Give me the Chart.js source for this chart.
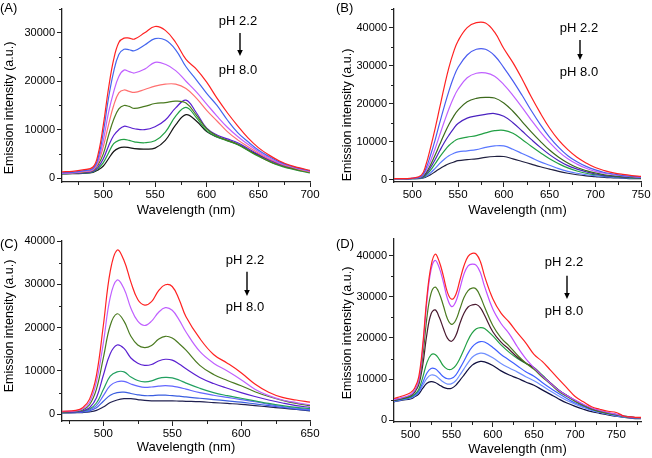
<!DOCTYPE html>
<html><head><meta charset="utf-8">
<script src="https://cdn.jsdelivr.net/npm/chart.js@4.4.0/dist/chart.umd.min.js"></script>
<style>
html,body{margin:0;padding:0;background:#fff;}
#wrap{position:relative;width:652px;height:458px;overflow:hidden;background:#fff;}
.cell{position:absolute;width:326px;height:229px;}
</style></head><body>
<div id="wrap">
<div class="cell" style="left:0;top:0"><canvas id="cA"></canvas></div>
<div class="cell" style="left:326px;top:0"><canvas id="cB"></canvas></div>
<div class="cell" style="left:0;top:229px"><canvas id="cC"></canvas></div>
<div class="cell" style="left:326px;top:229px"><canvas id="cD"></canvas></div>
</div>
<script>
// ---------- Panel A ----------
const A_wl = [460,470,480,490,495,500,505,510,515,520,525,530,540,550,560,570,580,590,600,610,620,630,640,650,660,670,680,690,700];
const A_red    = [1300,1400,1700,2300,5000,11000,18500,24500,28000,28900,28900,28700,30000,31300,30500,28000,24500,22500,19800,16500,13500,10800,8300,6300,4800,3600,2700,2100,1600];
const A_blue   = [1100,1200,1500,2000,4200,9500,16500,22000,25500,26600,26500,26300,27500,28800,28500,26500,23000,20300,17500,15000,12000,9400,7500,5800,4500,3400,2600,2000,1500];
const A_violet = [1000,1100,1400,1800,3600,7800,13500,17800,21000,22300,22000,21700,22500,23900,23500,22200,20000,17800,15300,12800,10500,8600,7000,5500,4200,3200,2500,1900,1400];
const A_salmon = [1000,1100,1300,1700,3200,6500,11000,15000,17600,18200,17900,17700,18300,19000,19400,19400,18500,16500,14000,11800,9600,7900,6500,5200,4000,3100,2400,1800,1300];
const A_olive  = [1000,1050,1200,1600,2800,5000,8800,12100,14300,15000,14800,14400,14800,15400,15600,15900,15500,13000,10200,8700,7800,7000,5800,4600,3500,2700,2100,1600,1200];
const A_indigo = [950,1000,1100,1400,2300,4000,6600,8800,10000,10700,10500,10200,10000,10600,12000,14500,16100,13500,10300,8900,8100,7300,6100,4900,3800,2900,2200,1700,1300];
const A_green  = [900,950,1050,1300,2000,3200,5200,7100,7800,8000,7800,7500,7300,7700,9500,12800,14600,12500,9800,8500,7700,6900,5700,4500,3500,2600,2000,1500,1100];
const A_black  = [850,900,1000,1200,1700,2500,4000,5500,6200,6400,6300,6100,6000,6200,7800,11000,13100,11800,9600,8500,7800,7000,5800,4800,3800,3000,2300,1800,1400];
const A_xTicks = [500,550,600,650,700];
const A_yTicks = [0,10000,20000,30000];

// ---------- Panel B ----------
const B_wl = [480,490,500,510,515,520,525,530,535,540,545,550,560,570,580,590,600,610,620,630,640,650,660,670,680,690,700,710,720,730,740,750];
const B_red    = [300,300,400,1200,4000,8500,13500,19000,24500,29500,33500,36500,40000,41300,41200,38800,34500,30800,26500,21800,17500,13600,10400,7900,5900,4400,3200,2400,1800,1400,1100,900];
const B_blue   = [300,300,350,900,3000,6500,10500,15000,19300,23300,26800,29500,32800,34300,34300,32600,29500,26000,22200,18200,14500,11200,8500,6300,4700,3500,2600,1900,1500,1100,900,700];
const B_violet = [300,300,330,800,2400,5000,8200,11800,15300,18600,21500,23800,26800,28000,28100,27200,25000,22200,19000,15700,12600,9800,7400,5500,4100,3000,2200,1700,1300,1000,800,600];
const B_olive  = [300,300,320,650,1800,3900,6500,9300,12000,14500,16600,18300,20500,21400,21650,21500,20200,18000,15300,12600,10100,7800,5900,4400,3200,2400,1800,1300,1000,800,600,500];
const B_indigo = [300,300,320,550,1500,3200,5300,7600,9800,11700,13400,14800,16200,16800,17200,17400,16700,15000,12800,10600,8500,6600,5000,3700,2800,2100,1500,1100,900,700,600,500];
const B_green  = [300,300,300,480,1200,2500,4200,6000,7600,9000,10000,10700,11200,11600,12300,12900,13000,12200,10600,8800,7100,5500,4200,3100,2300,1700,1300,1000,800,600,500,400];
const B_lblue  = [300,300,300,420,900,1800,3000,4300,5400,6300,6900,7300,7600,7900,8500,8900,8900,8000,6900,5800,4700,3800,2900,2200,1700,1300,1000,800,600,500,400,400];
const B_black  = [250,250,250,350,700,1300,2100,2900,3600,4200,4600,5000,5300,5500,5900,6100,6100,5500,4800,4100,3400,2800,2200,1700,1300,1000,800,600,500,400,300,300];
const B_xTicks = [500,550,600,650,700,750];
const B_yTicks = [0,10000,20000,30000,40000];

// ---------- Panel C ----------
const C_wl = [470,480,485,490,495,500,505,510,515,520,525,530,535,540,545,550,555,560,570,580,590,600,610,620,630,640,650];
const C_red    = [700,900,1500,3500,9000,20500,33000,37900,35500,30500,26500,25200,26000,28500,29900,29500,26500,22500,17500,13800,11800,9600,7000,5100,3900,3300,2800];
const C_violet = [600,800,1200,2800,7500,16500,27000,31000,29000,24500,21500,20500,21500,23500,24600,24000,21800,19000,14500,11800,10000,8000,5800,4300,3300,2700,2200];
const C_olive  = [500,700,1000,2200,5800,13000,20500,23200,21500,18000,16000,15400,15900,17300,18000,17600,16300,14800,11300,9200,7800,6600,5200,4100,3200,2500,2000];
const C_indigo = [450,550,800,1500,3800,9000,14000,16000,15200,13000,11800,11300,11500,12300,12700,12500,11600,10500,8500,7100,6000,5000,4100,3300,2600,2000,1600];
const C_green  = [400,500,700,1200,2600,5700,8800,9800,9800,8600,7800,7500,7700,8300,8500,8400,7900,7200,6000,5000,4300,3700,3100,2500,2000,1600,1300];
const C_blue1  = [400,450,600,1000,2000,4300,6600,7500,7600,7000,6500,6200,6300,6500,6600,6500,6200,5800,5000,4400,3900,3400,2900,2300,1800,1400,1100];
const C_blue2  = [350,400,500,800,1500,3000,4400,5000,5100,4800,4500,4300,4300,4400,4400,4300,4200,4000,3700,3400,3100,2800,2400,2000,1600,1200,900];
const C_black  = [300,350,400,550,900,1700,2700,3300,3600,3600,3400,3200,3100,3100,3100,3100,3050,3000,2900,2700,2500,2300,2000,1700,1400,1100,800];
const C_xTicks = [500,550,600,650];
const C_yTicks = [0,10000,20000,30000,40000];

// ---------- Panel D ----------
const D_wl = [480,490,500,505,510,515,520,525,530,535,540,545,550,555,560,565,570,575,580,585,590,600,610,620,630,640,650,660,670,680,690,700,710,720,730,740,750,760,770,780];
const D_red    = [5300,5900,6700,7800,10500,18500,30000,37500,40300,38500,35000,31000,29400,30500,34000,37500,39800,40500,40300,38500,35000,29500,26000,23800,21200,18800,16000,14300,12200,10000,7900,5800,4500,3300,2700,2200,1900,1000,800,700];
const D_violet = [5000,5500,6200,7200,9500,17500,29000,36500,38800,37000,33500,29500,27600,28800,32000,35500,37500,37900,37600,35800,32500,27000,23500,21000,17800,15000,12800,10800,9000,7300,6000,4900,3900,3000,2400,1900,1500,1000,700,600];
const D_olive  = [5000,5400,6000,7000,9000,15500,25000,30800,32300,30800,27800,24600,23300,24300,27000,29800,31500,32100,31800,30000,27500,23000,20000,18000,15800,13900,12400,10500,8800,7000,5800,4600,3600,2700,2100,1700,1400,1000,700,600];
const D_maroon = [4900,5300,5900,6800,8600,13500,21000,25800,26800,25000,22300,19900,19200,20500,23500,26000,27500,28000,28100,27300,25500,21500,19000,17200,15300,13900,12700,10800,9100,7300,6000,4800,3700,2800,2200,1800,1400,1000,700,600];
const D_green  = [4800,5200,5700,6300,7500,10500,14000,15900,16000,14800,13200,12400,12400,13300,15000,17200,19500,21200,22200,22500,22300,20500,18300,16500,15000,13800,12800,11000,9100,7400,6000,4800,3700,2800,2200,1700,1300,900,700,600];
const D_blue   = [4700,5100,5500,6100,7100,9200,11500,12600,12500,11600,10600,10100,10200,11000,12600,14400,16300,17800,18700,19100,19000,17700,16000,14600,13200,11800,10700,9200,7800,6500,5300,4200,3400,2600,2000,1600,1200,900,600,500];
const D_lblue  = [4600,5000,5400,5900,6800,8500,10200,11000,10900,10100,9300,8800,8900,9600,11000,12500,14000,15300,16000,16300,16200,15200,13800,12700,11700,10600,9600,8400,7100,5900,4800,3900,3100,2400,1900,1500,1100,800,600,500];
const D_black  = [4500,4900,5200,5700,6400,7800,9000,9400,9200,8600,8000,7700,7800,8500,9700,11000,12300,13400,14000,14300,14200,13300,12000,11000,10200,9300,8500,7400,6300,5200,4200,3400,2700,2100,1700,1300,1000,700,500,400];
const D_xTicks = [500,550,600,650,700,750];
const D_yTicks = [0,10000,20000,30000,40000];

const FONT = "'Liberation Sans', Arial, Helvetica, sans-serif";

const decoPlugin = {
  id: 'deco',
  afterDraw(chart) {
    const o = chart.options.plugins.deco;
    const ctx = chart.ctx;
    ctx.save();
    const xs = chart.scales.x, ys = chart.scales.y;
    ctx.strokeStyle = '#222'; ctx.lineWidth = 1;
    const minors = (ticks, min, max) => {
      const step = ticks[1] - ticks[0];
      const out = [];
      for (let v = ticks[0] - step / 2; v <= max + 1e-9; v += step) if (v >= min - 1e-9) out.push(v);
      return out;
    };
    minors(o.xTicks, xs.min, xs.max).forEach(v => {
      const px = Math.round(xs.getPixelForValue(v)) + 0.5;
      ctx.beginPath(); ctx.moveTo(px, xs.top); ctx.lineTo(px, xs.top + 3); ctx.stroke();
    });
    minors(o.yTicks, ys.min, ys.max).forEach(v => {
      const py = Math.round(ys.getPixelForValue(v)) + 0.5;
      ctx.beginPath(); ctx.moveTo(ys.right, py); ctx.lineTo(ys.right - 3, py); ctx.stroke();
    });
    ctx.fillStyle = '#000';
    ctx.font = '13px ' + FONT;
    ctx.textAlign = 'left'; ctx.textBaseline = 'middle';
    ctx.fillText(o.label, o.labelX, o.labelY);
    ctx.save();
    ctx.translate(o.ytX, o.ytY);
    ctx.rotate(-Math.PI / 2);
    ctx.font = '12.5px ' + FONT;
    ctx.textAlign = 'center';
    ctx.fillText('Emission intensity (a.u.)', 0, 0);
    ctx.restore();
    ctx.font = '13px ' + FONT;
    ctx.textAlign = 'center';
    ctx.fillText('pH 2.2', o.phX, o.ph1Y);
    ctx.fillText('pH 8.0', o.phX, o.ph2Y);
    ctx.strokeStyle = '#000'; ctx.lineWidth = 1.4;
    ctx.beginPath(); ctx.moveTo(o.arX, o.arY1); ctx.lineTo(o.arX, o.arY2 - 4); ctx.stroke();
    ctx.beginPath();
    ctx.moveTo(o.arX - 2.8, o.arY2 - 6); ctx.lineTo(o.arX + 2.8, o.arY2 - 6); ctx.lineTo(o.arX, o.arY2); ctx.closePath(); ctx.fill();
    ctx.restore();
  }
};

function makeChart(id, p) {
  const datasets = p.series.map((s, i) => ({
    data: p.wl.map((w, j) => ({x: w, y: s[j]})),
    borderColor: p.colors[i],
    borderWidth: 1.2,
    pointRadius: 0,
    fill: false,
    tension: 0.4
  }));
  return new Chart(document.getElementById(id), {
    type: 'line',
    data: {datasets},
    plugins: [decoPlugin],
    options: {
      responsive: true, maintainAspectRatio: false, animation: false,
      events: [],
      layout: {padding: {left: 0, right: p.padR, top: p.padT, bottom: 0}},
      plugins: {
        legend: {display: false}, tooltip: {enabled: false},
        deco: Object.assign({xTicks: p.xTicks, yTicks: p.yTicks}, p.deco)
      },
      scales: {
        x: {
          type: 'linear', min: p.xMin, max: p.xMax,
          afterBuildTicks: s => { s.ticks = p.xTicks.map(v => ({value: v})); },
          afterFit: s => { s.height = p.xH; },
          ticks: {font: {family: FONT, size: 11.5}, color: '#000', padding: 1, maxRotation: 0, autoSkip: false, callback: v => String(v)},
          grid: {display: true, drawOnChartArea: false, drawTicks: true, tickLength: 5, color: '#222', lineWidth: 1},
          border: {display: true, color: '#222', width: 1.3},
          title: {display: true, text: 'Wavelength (nm)', color: '#000', font: {family: FONT, size: 13}, padding: {top: 0, bottom: p.xtPad}}
        },
        y: {
          type: 'linear', min: p.yMin, max: p.yMax,
          afterBuildTicks: s => { s.ticks = p.yTicks.map(v => ({value: v})); },
          afterFit: s => { s.width = p.yW; },
          ticks: {font: {family: FONT, size: 11}, color: '#000', padding: 2, autoSkip: false, callback: v => String(v)},
          grid: {display: true, drawOnChartArea: false, drawTicks: true, tickLength: 5, color: '#222', lineWidth: 1},
          border: {display: true, color: '#222', width: 1.3}
        }
      }
    }
  });
}

const RED = '#ff2222', VIOLET = '#c060ff', OLIVE = '#4a7a20', INDIGO = '#5a20d0', GREEN = '#22a045';

makeChart('cA', {
  wl: A_wl,
  series: [A_red, A_blue, A_violet, A_salmon, A_olive, A_indigo, A_green, A_black],
  colors: [RED, '#4466ee', VIOLET, '#ff7070', OLIVE, INDIGO, GREEN, '#151515'],
  xMin: 460, xMax: 700, yMin: -800, yMax: 35000, xTicks: A_xTicks, yTicks: A_yTicks,
  padR: 16, padT: 2, yW: 62, xH: 47, xtPad: 10.5,
  deco: {label: '(A)', labelX: 0, labelY: 8, ytX: 10, ytY: 108, phX: 238, ph1Y: 21, ph2Y: 70, arX: 240, arY1: 33, arY2: 56}
});
makeChart('cB', {
  wl: B_wl,
  series: [B_red, B_blue, B_violet, B_olive, B_indigo, B_green, B_lblue, B_black],
  colors: [RED, '#4a5cf0', VIOLET, '#3d6a1c', '#4a22c0', GREEN, '#5a78ff', '#202040'],
  xMin: 480, xMax: 750, yMin: -600, yMax: 45000, xTicks: B_xTicks, yTicks: B_yTicks,
  padR: 11, padT: 3, yW: 68, xH: 47, xtPad: 10.5,
  deco: {label: '(B)', labelX: 10, labelY: 8, ytX: 21.7, ytY: 115, phX: 253, ph1Y: 28.3, ph2Y: 72.7, arX: 254, arY1: 40, arY2: 60}
});
makeChart('cC', {
  wl: C_wl,
  series: [C_red, C_violet, C_olive, C_indigo, C_green, C_blue1, C_blue2, C_black],
  colors: [RED, VIOLET, OLIVE, INDIGO, '#22a060', '#6266ff', '#3a5ee0', '#202050'],
  xMin: 470, xMax: 650, yMin: -1550, yMax: 40000, xTicks: C_xTicks, yTicks: C_yTicks,
  padR: 16, padT: 12, yW: 62, xH: 37, xtPad: 2.9,
  deco: {label: '(C)', labelX: 0, labelY: 15, ytX: 10, ytY: 97, phX: 245, ph1Y: 31.5, ph2Y: 78.3, arX: 247, arY1: 42.7, arY2: 67}
});
makeChart('cD', {
  wl: D_wl,
  series: [D_red, D_violet, D_olive, D_maroon, D_green, D_blue, D_lblue, D_black],
  colors: [RED, '#c050ff', OLIVE, '#4a1a30', GREEN, '#4060ff', '#7090ff', '#101040'],
  xMin: 480, xMax: 780, yMin: -400, yMax: 44000, xTicks: D_xTicks, yTicks: D_yTicks,
  padR: 11, padT: 10, yW: 68, xH: 36, xtPad: 1.2,
  deco: {label: '(D)', labelX: 10, labelY: 15, ytX: 21.7, ytY: 104, phX: 238, ph1Y: 33.3, ph2Y: 82.7, arX: 241, arY1: 46.7, arY2: 70}
});
</script>
</body></html>
